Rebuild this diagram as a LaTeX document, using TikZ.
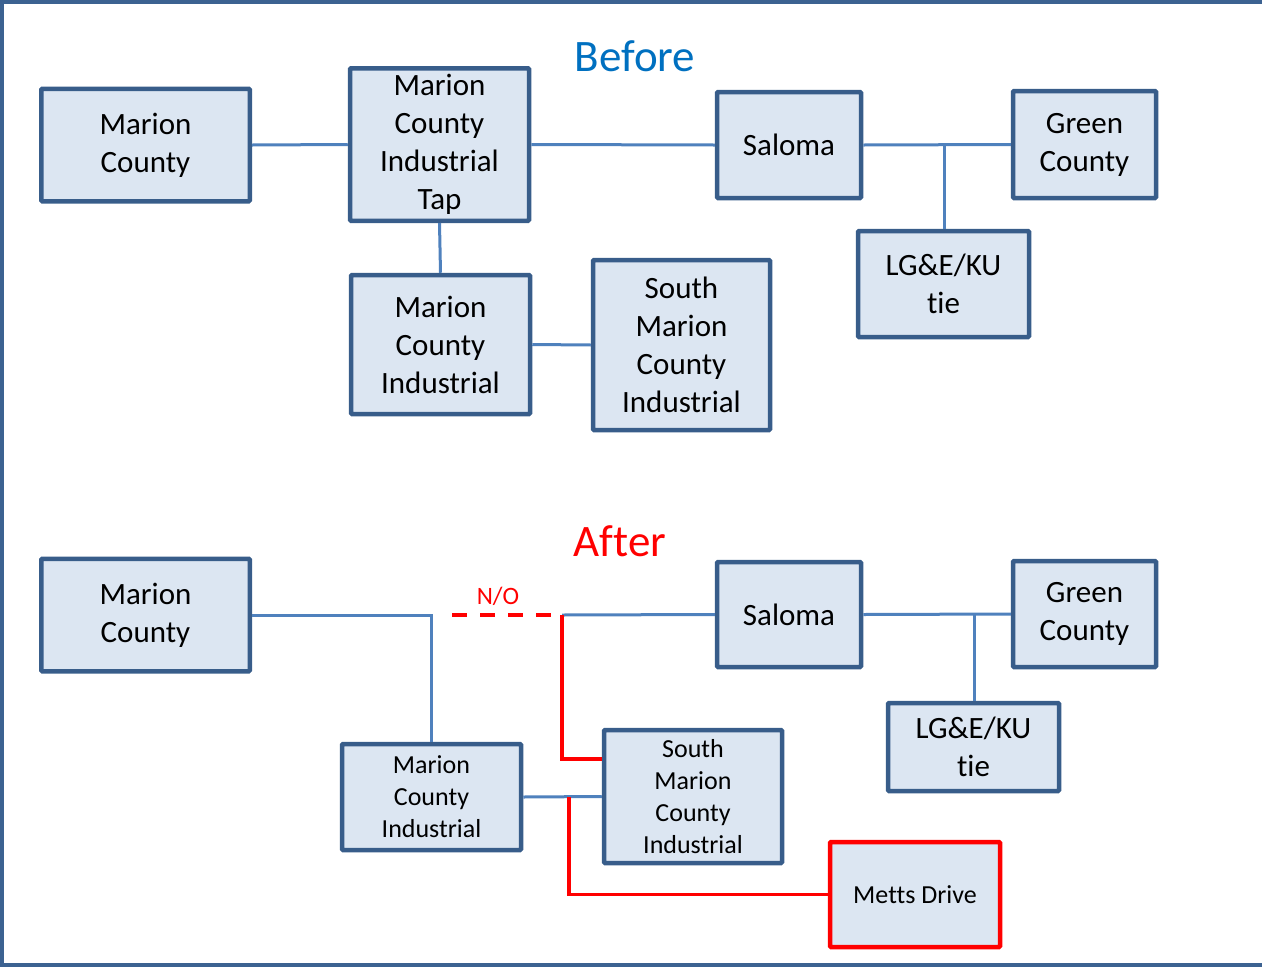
\documentclass[tikz,border=0pt]{standalone}
\usepackage{fontspec}
\setmainfont{Carlito}[Ligatures={NoCommon,NoContextual}]
\definecolor{bdr}{RGB}{56,93,138}
\definecolor{boxfill}{RGB}{220,230,242}
\definecolor{conncol}{RGB}{79,129,189}
\definecolor{framecol}{RGB}{60,98,145}
\definecolor{titleblue}{RGB}{0,112,192}
\definecolor{redc}{RGB}{255,0,0}
\begin{document}
\begin{tikzpicture}[x=1pt,y=-1pt,
  box/.style={draw=bdr, fill=boxfill, line width=4.5pt, align=center, inner sep=0pt, rounded corners=1pt},
  bigtxt/.style={font=\fontsize{31}{38}\selectfont},
  smalltxt/.style={font=\fontsize{26}{32}\selectfont},
  conn/.style={draw=conncol, line width=3pt},
  redl/.style={draw=redc, line width=3.5pt},
  title/.style={font=\fontsize{45}{50}\selectfont, inner sep=0pt}]
\useasboundingbox (0,0) rectangle (1262,967);
\draw[framecol, line width=4pt] (1262,2) -- (2,2) -- (2,965) -- (1262,965);

% ---------- Before ----------
\node[title, text=titleblue] (tbefore) at (635,56) {Before};
\node[box, bigtxt, minimum width=208.5pt, minimum height=112.5pt] (bmc) at (145.5,145) {Marion\\County};
\node[box, bigtxt, minimum width=179pt, minimum height=152.5pt] (bmcit) at (439.5,144.5) {Marion\\County\\Industrial\\Tap};
\node[box, bigtxt, minimum width=144pt, minimum height=106pt] (bsal) at (789,145) {Saloma};
\node[box, bigtxt, minimum width=143pt, minimum height=107pt] (bgc) at (1084.5,144.5) {Green\\County};
\node[box, bigtxt, minimum width=171pt, minimum height=106pt] (blg) at (943.5,284) {LG\&E/KU\\tie};
\node[box, bigtxt, minimum width=179pt, minimum height=139pt] (bmci) at (440.5,344.5) {Marion\\County\\Industrial};
\node[box, bigtxt, minimum width=177pt, minimum height=170pt] (bsmci) at (681.5,345) {South\\Marion\\County\\Industrial};

\draw[conn] (bmc.east) -- (bmcit.west);
\draw[conn] (bmcit.east) -- (bsal.west);
\draw[conn] (bsal.east) -- (bgc.west);
\coordinate (bj) at (944,145);
\draw[conn] (bj) -- (bj |- blg.north);
\draw[conn] (bmcit.south) -- (bmci.north);
\draw[conn] (bmci.east) -- (bsmci.west);

% ---------- After ----------
\node[title, text=redc] (tafter) at (620,541) {After};
\node[box, bigtxt, minimum width=208.5pt, minimum height=112.5pt] (amc) at (145.5,615) {Marion\\County};
\node[box, bigtxt, minimum width=144pt, minimum height=105pt] (asal) at (789,614.5) {Saloma};
\node[box, bigtxt, minimum width=143pt, minimum height=106pt] (agc) at (1084.5,614) {Green\\County};
\node[box, bigtxt, minimum width=171pt, minimum height=88pt] (alg) at (973.5,747) {LG\&E/KU\\tie};
\node[box, smalltxt, minimum width=179pt, minimum height=106pt] (amci) at (431.5,797) {Marion\\County\\Industrial};
\node[box, smalltxt, minimum width=178pt, minimum height=133pt] (asmci) at (693,796.5) {South\\Marion\\County\\Industrial};
\node[box, draw=redc, smalltxt, minimum width=170pt, minimum height=105pt] (ametts) at (915,894.5) {Metts Drive};

\draw[conn] (amc.east) -- (amc.east -| amci.north) -- (amci.north);
\coordinate (nl) at (452,615);
\coordinate (ar) at (562,615);
\draw[redc, line width=3.5pt, dash pattern=on 15pt off 13pt] (nl) -- (ar);
\node[text=redc, font=\fontsize{25}{28}\selectfont, inner sep=0pt] (no) at (498,596) {N/O};
\draw[conn] (ar) -- (asal.west);
\coordinate (ar2) at (562,759);
\draw[redl] (ar) -- (ar2) -- (ar2 -| asmci.west);
\draw[conn] (amci.east) -- (asmci.west);
\coordinate (am) at (569,797);
\draw[redl] (am) -- (am |- ametts.west) -- (ametts.west);
\draw[conn] (asal.east) -- (agc.west);
\coordinate (aj) at (974,614);
\draw[conn] (aj) -- (aj |- alg.north);
\end{tikzpicture}
\end{document}
